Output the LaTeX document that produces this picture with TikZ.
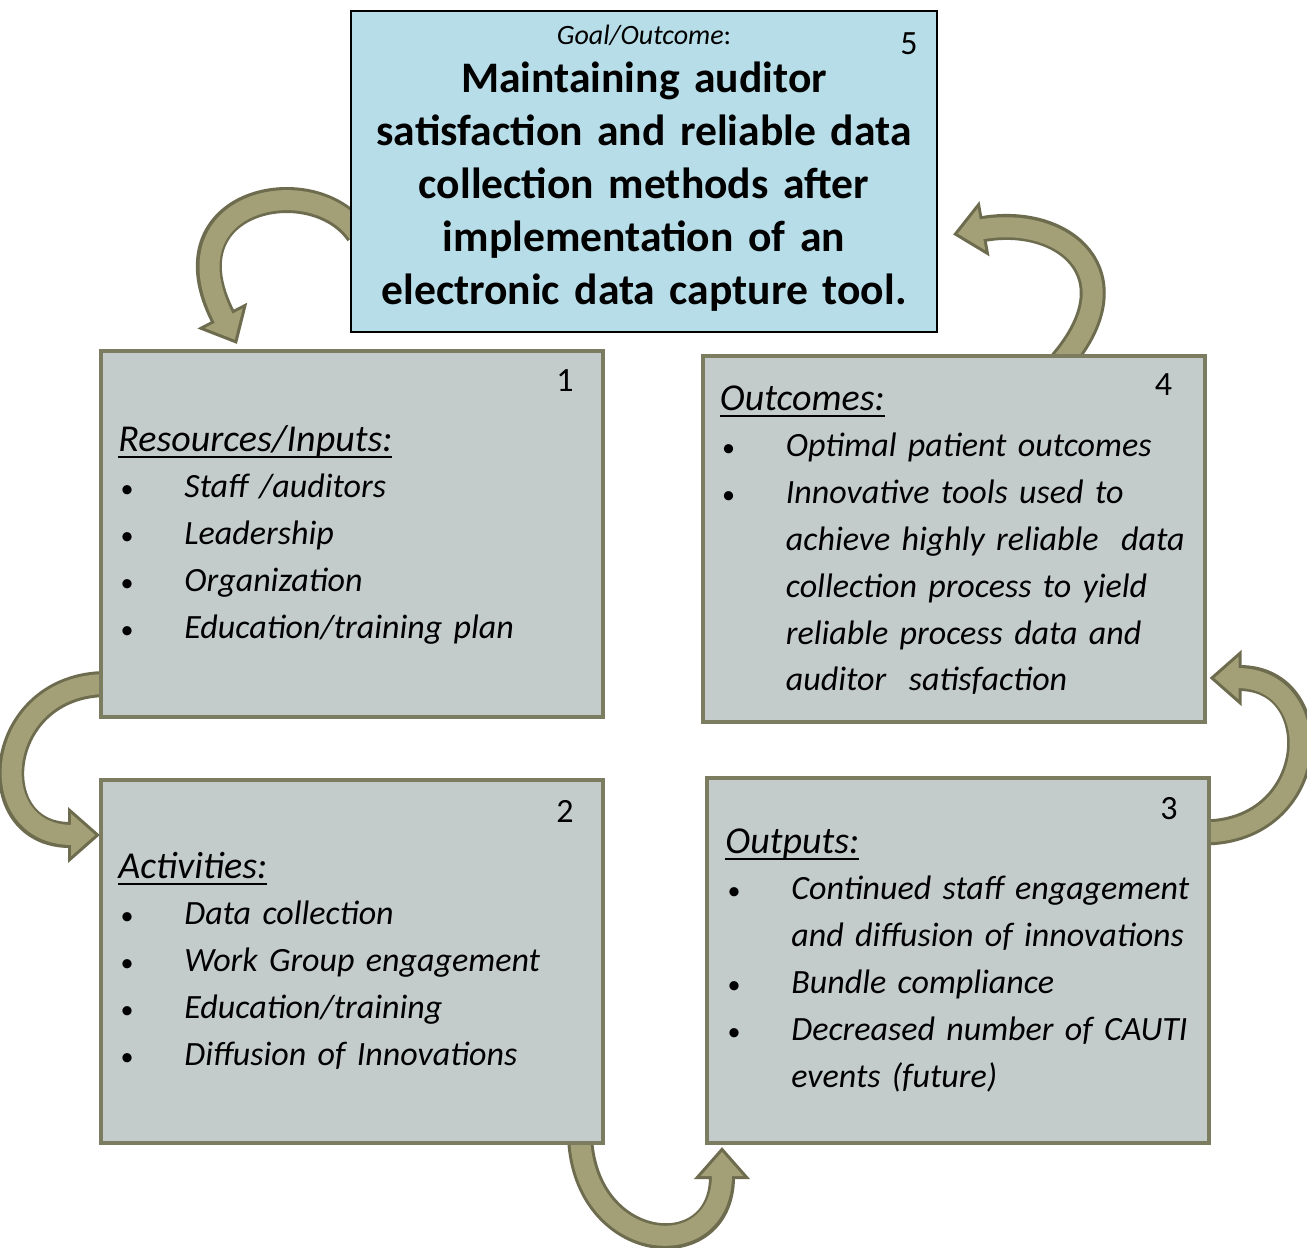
\documentclass[tikz,border=0pt]{standalone}
\usepackage{fontspec}
\setmainfont{Carlito}[WordSpace=0.8]
\usetikzlibrary{arrows.meta,calc,positioning,backgrounds}

\definecolor{goalblue}{HTML}{B7DDE8}
\definecolor{boxgray}{HTML}{C3CCCA}
\definecolor{boxedge}{HTML}{7C7C60}
\definecolor{curllight}{HTML}{A3A077}
\definecolor{curldark}{HTML}{6E6C4E}

% underlined heading, rule a bit under the baseline
\newcommand\headul[1]{\setbox0\hbox{#1}\rlap{\rule[-3.4pt]{\wd0}{0.9pt}}\box0}
\newcommand\bul{\makebox[33pt][l]{\hspace{1pt}{\fontsize{13}{13}\selectfont\textbullet}}}
\newcommand\ind{\hspace*{33pt}}

\tikzset{
  goalbox/.style={draw=black,line width=1pt,fill=goalblue,minimum width=293pt,minimum height=160.5pt,inner sep=0pt},
  stage/.style={draw=boxedge,line width=2pt,fill=boxgray,minimum width=251pt,minimum height=183pt,inner sep=0pt},
  stagetext/.style={anchor=base west,inner sep=0pt,text width=240pt,align=left,font=\fontsize{17}{23.4}\selectfont\itshape},
  stagenum/.style={inner sep=0pt,font=\fontsize{17}{20}\selectfont},
  curlout/.style={curldark,line width=13pt,-{Triangle[width=27pt,length=16pt]}},
  curlin/.style={curllight,line width=10pt,shorten >=2.4pt,-{Triangle[width=20.5pt,length=12.1pt]}},
}

\begin{document}
\begin{tikzpicture}[x=0.5pt,y=-0.5pt]
  \useasboundingbox (0,0) rectangle (1307,1248);

  % the five boxes
  \node[goalbox] (goal) at (644,171.5) {};
  \node[stage] (inputs) at (352,534) {};
  \node[stage] (outcomes) at (953.5,539) {};
  \node[stage,minimum height=181.5pt] (activities) at (352,961.5) {};
  \node[stage,minimum height=182.5pt] (outputs) at (958,960.5) {};

  % goal text
  \node[anchor=base,inner sep=0pt,font=\fontsize{14}{16}\selectfont] (goalhead) at ($(goal.north)+(0,34)$) {\textit{Goal/Outcome}:};
  \node[anchor=base,inner sep=0pt,text width=290pt,align=center,font=\fontsize{21.8}{26.5}\selectfont\bfseries] (goaltext) at ($(goal.north)+(0,82)$)
    {Maintaining auditor\\ satisfaction and reliable data\\ collection methods after\\ implementation of an\\ electronic data capture tool.};

  % numbers
  \node[stagenum] (n5) at ($(goal.north east)+(-29,34)$) {5};
  \node[stagenum] (n1) at ($(inputs.north east)+(-40,32)$) {1};
  \node[stagenum] (n4) at ($(outcomes.north east)+(-43,31)$) {4};
  \node[stagenum] (n2) at ($(activities.north east)+(-40,33)$) {2};
  \node[stagenum] (n3) at ($(outputs.north east)+(-42,33)$) {3};

  % box contents
  \node[stagetext] (inputstext) at ($(inputs.north west)+(19,102)$)
    {{\fontsize{19}{23.4}\selectfont\headul{Resources/Inputs:}}\\
     \bul Staff /auditors\\
     \bul Leadership\\
     \bul Organization\\
     \bul Education/training plan};
  \node[stagetext] (outcomestext) at ($(outcomes.north west)+(19,56)$)
    {{\fontsize{19}{23.4}\selectfont\headul{Outcomes:}}\\
     \bul Optimal patient outcomes\\
     \bul Innovative tools used to\\
     \ind achieve highly reliable\ \ data\\
     \ind collection process to yield\\
     \ind reliable process data and\\
     \ind auditor\ \ satisfaction};
  \node[stagetext] (activitiestext) at ($(activities.north west)+(19,100)$)
    {{\fontsize{19}{23.4}\selectfont\headul{Activities:}}\\
     \bul Data collection\\
     \bul Work Group engagement\\
     \bul Education/training\\
     \bul Diffusion of Innovations};
  \node[stagetext] (outputstext) at ($(outputs.north west)+(20,77)$)
    {{\fontsize{19}{23.4}\selectfont\headul{Outputs:}}\\
     \bul Continued staff engagement\\
     \ind and diffusion of innovations\\
     \bul Bundle compliance\\
     \bul Decreased number of CAUTI\\
     \ind events (future)};

  % curled arrows, behind the boxes
  \begin{scope}[on background layer]
    \fill[white] (0,0) rectangle (1307,1248);
    \foreach \st in {curlout,curlin} {
      \draw[\st] ($(goal.west)+(8,62)$) .. controls +(-45,-65) and +(-75,-145) .. ($(inputs.north west)+(138,-5)$);
      \draw[\st] ($(inputs.west)+(8,150)$) .. controls +(-113,0) and +(-120,0) .. ($(activities.west)+(1,-126.5)$);
      \draw[\st] ($(activities.south)+(228,-8)$) .. controls +(5,118) and +(0,120) .. ($(outputs.south)+(-236,2)$);
      \draw[\st] ($(outputs.east)+(-8,-128)$) .. controls +(118,0) and +(120,0) .. ($(outcomes.east)+(3,139)$);
      \draw[\st] ($(outcomes.north)+(108,8)$) .. controls +(75,-88) and +(110,-20) .. ($(goal.east)+(15,63)$);
    }
  \end{scope}
\end{tikzpicture}
\end{document}
